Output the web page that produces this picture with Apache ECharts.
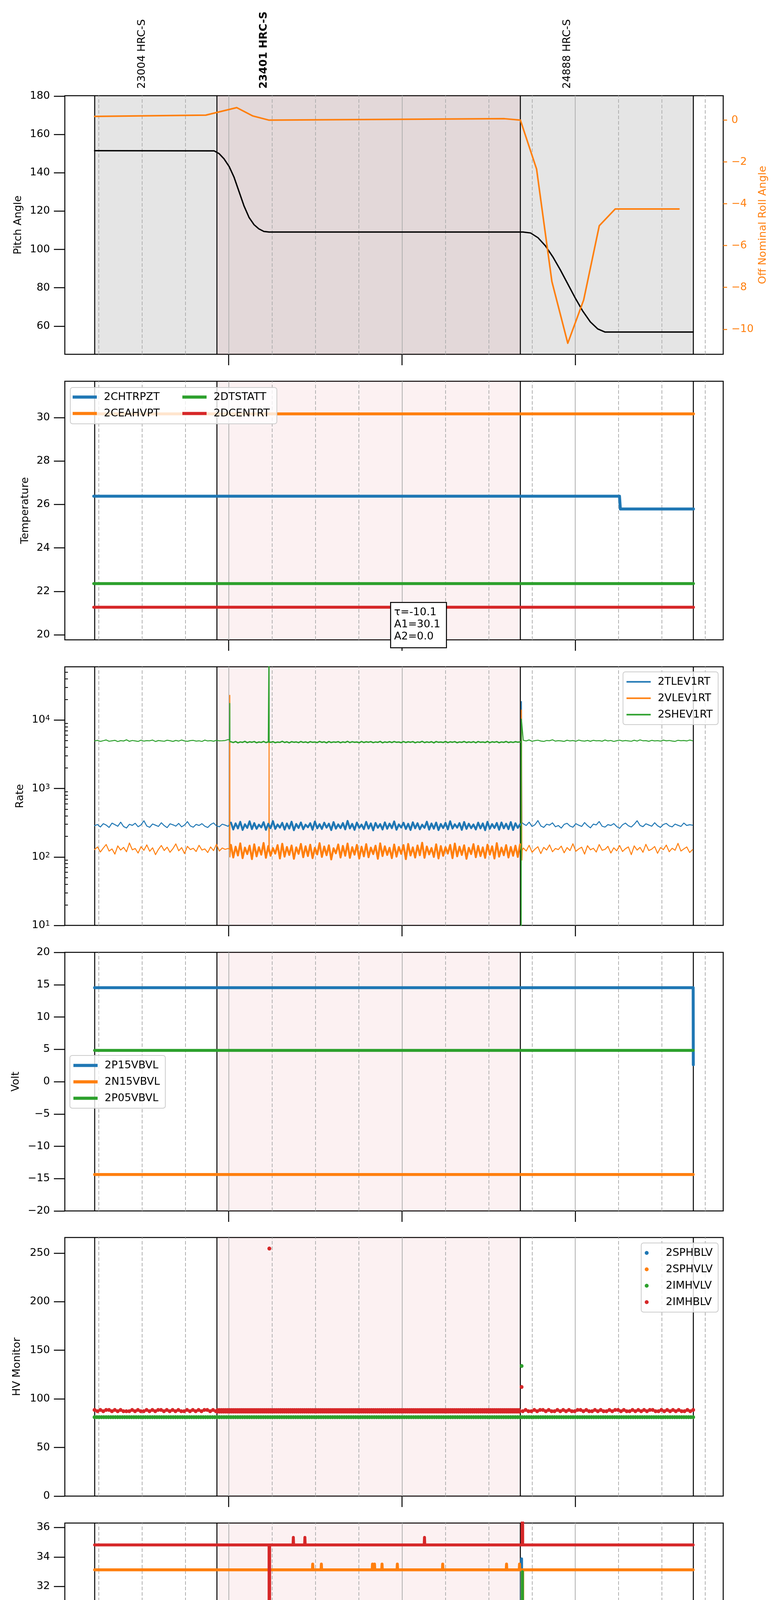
<!DOCTYPE html>
<html>
<head>
<meta charset="utf-8">
<script src="https://cdn.jsdelivr.net/npm/echarts@6/dist/echarts.min.js"></script>
<style>
html, body { margin: 0; padding: 0; background: #fff; }
#chart { width: 2000px; height: 5400px; }
</style>
</head>
<body>
<div id="chart"></div>
<script>
// x values are minutes after 05:00 on 2020-12-12
const xMin = 3.3, xMax = 231.2;
const hourTicks = [60, 120, 180];
const quarterTicks = [15, 30, 45, 75, 90, 105, 135, 150, 165, 195, 210, 225];
const obsBounds = [13.6, 55.9, 161.0, 220.8];
const obsLabels = ['23004 HRC-S', '23401 HRC-S', '24888 HRC-S'];
const obsLabelTimes = [30.0, 72.2, 177.3];
const xLabel = '2020-12-12 (347)';

// tick labels
const pitchTicks = [60, 80, 100, 120, 140, 160, 180];
const rollTicks = [-10, -8, -6, -4, -2, 0];
const tempTicks = [20, 22, 24, 26, 28, 30];
const rateTicks = [1, 2, 3, 4];   // decades, shown as 10^n
const rateMinorTicks = [20, 30, 40, 50, 60, 70, 80, 90, 200, 300, 400, 500, 600, 700, 800, 900,
  2000, 3000, 4000, 5000, 6000, 7000, 8000, 9000, 20000, 30000, 40000, 50000];
const voltTicks = [-20, -15, -10, -5, 0, 5, 10, 15, 20];
const hvTicks = [0, 50, 100, 150, 200, 250];
const detTicks = [20, 22, 24, 26, 28, 30, 32, 34, 36];
const feaTicks = [20, 22, 24, 26, 28];

// panel 1: attitude
const pitch = [[13.6,151.5],[55.0,151.4],[56.7,150.0],[58.4,147.3],[60.2,143.2],[61.9,137.6],[63.6,130.2],
  [65.3,122.8],[67.1,116.6],[68.8,112.9],[70.5,110.7],[72.2,109.4],[74.0,109.1],[161.9,109.1],[164.5,108.6],
  [167.1,106.1],[169.7,101.8],[172.2,96.2],[174.8,89.4],[177.4,82.0],[180.0,74.6],[182.6,67.8],[185.2,62.2],
  [187.8,58.5],[190.3,56.9],[220.8,56.9]];
const roll = [[13.6,0.18],[52.1,0.24],[62.8,0.60],[68.4,0.20],[74.0,0.0],[155.5,0.07],[161.0,0.0],
  [166.6,-2.34],[171.9,-7.72],[177.4,-10.67],[182.9,-8.6],[188.3,-5.05],[193.8,-4.25],[215.9,-4.25]];

// panel 2: temperature
const chtrpzt = [[13.3,26.38],[195.3,26.38],[195.6,25.79],[220.9,25.79]];
const ceahvpt = [[13.3,30.17],[220.9,30.17]];
const dtstatt = [[13.3,22.36],[220.9,22.36]];
const dcentrt = [[13.3,21.27],[220.9,21.27]];

// panel 3: rates, three sampled stretches plus the events around the transitions
const rateSpanA = [13.6, 59.8], rateSpanB = [60.8, 160.9], rateSpanC = [162.0, 220.6];
const tlevA = [286,298,274,306,292,270,312,296,281,322,278,265,300,289,311,276,294,338,283,271,303,291,279,316,
  287,268,305,295,282,309,275,293,328,284,272,299,288,306,281,269,297,314,285,276,301,292,280];
const tlevB = [318,252,309,261,326,248,300,266,331,255,312,258,296,270,322,249,305,263,334,257,298,268,315,251,
  308,260,327,246,303,265,319,254,296,271,311,250,329,262,301,256,317,268,306,247,323,259,299,264,313,253,336,
  261,304,249,318,266,297,255,325,260,309,245,314,267,302,252,320,258,307,263,330,250,299,269,316,256,305,248,
  321,262,311,254,296,266,327,251,308,259,318,247,303,264,315,253,332,260,300,268,312,249,324,257,306,263,298,
  252,317,261,309,246,326,258,302,265,314,250,319,262,305,255,323,248,310,266,301];
const tlevC = [305,288,322,279,296,340,284,270,301,292,315,276,288,264,299,310,283,272,306,291,279,318,287,266,
  302,294,329,281,273,297,288,307,278,262,295,312,286,274,300,338,289,277,305,293,281,316,286,270,298,309,284,
  275,302,290,279,313,288,296,291];
const tlevEvents = [[73.95,280],[74.0,234],[74.05,290],[161.2,285],[161.35,18600],[161.5,320]];
const vlevA = [128,140,118,135,152,122,131,110,145,126,138,119,160,127,133,114,141,125,150,121,136,108,129,147,
  124,139,117,132,155,123,137,112,143,128,134,120,148,126,131,116,140,124,153,122,135,129,133];
const vlevB = [150,98,141,105,158,96,137,110,146,93,153,102,139,108,160,97,144,104,135,112,149,95,156,101,140,
  107,147,94,138,111,155,99,143,103,151,96,136,109,159,100,142,106,148,92,134,113,152,98,145,104,157,97,139,
  108,150,95,141,102,154,99,137,110,146,94,158,103,143,107,136,96,152,101,140,111,149,93,155,105,138,98,147,
  106,161,97,142,109,135,100,153,95,144,104,139,112,150,96,157,102,141,107,148,94,136,110,154,99,145,103,138,
  97,151,108,143,95,159,101,137,106,149,98,140,104,146,100,153];
const vlevC = [135,122,148,117,130,141,112,138,126,150,119,133,128,144,115,137,124,156,121,131,139,110,146,127,
  134,118,152,125,129,143,114,136,123,147,120,132,140,108,145,126,138,117,153,124,130,142,113,137,128,149,119,
  134,125,158,122,131,140,116,128];
const vlevEvents = [[60.35,130],[60.4,23000],[60.45,100],[73.95,120],[74.0,4800],[74.05,120],
  [161.2,125],[161.35,14000],[161.5,90],[161.6,125]];
const shevA = [4950,5050,4880,5000,5120,4900,4980,5060,4850,5010,4940,5150,4890,5030,4960,4870,5080,4920,5000,
  4980,5100,4860,5020,4950,4900,5070,4990,4880,5040,4930,5110,4960,4890,5010,5050,4920,4980,4870,5090,4950,
  5000,4910,5060,4970,4990,5030,5180];
const shevB = [4820,4700,4860,4650,4790,4720,4880,4680,4810,4740,4850,4660,4780,4710,4870,4690,4800,4730,4840,
  4670,4770,4720,4890,4700,4810,4650,4830,4740,4790,4680,4860,4710,4800,4660,4840,4730,4780,4690,4870,4720,
  4810,4650,4850,4700,4790,4740,4830,4670,4800,4710,4880,4690,4820,4730,4780,4660,4860,4700,4810,4740,4840,
  4680,4790,4720,4870,4650,4800,4710,4830,4690,4850,4730,4780,4670,4860,4700,4810,4740,4840,4660,4790,4720,
  4880,4690,4800,4710,4830,4650,4850,4730,4780,4700,4870,4680,4810,4740,4840,4670,4790,4720,4860,4690,4800,
  4710,4830,4660,4850,4730,4780,4700,4870,4680,4810,4740,4840,4670,4790,4720,4860,4690,4800,4710,4830,4750,4800];
const shevC = [5050,4960,5120,4900,5000,5080,4940,4870,5030,4990,5150,4920,5010,4960,4880,5070,4950,5020,4900,
  5100,4970,4930,5040,4890,5060,4980,5000,4910,5110,4950,5030,4870,4990,5080,4940,5020,4960,4900,5070,4930,
  5130,4980,5010,4890,5050,4960,5000,4920,5090,4970,5030,4940,4880,5060,4990,5020,4950,5100,4980];
const shevEvents = [[60.35,5150],[60.4,17500],[60.45,4800],[73.95,4750],[74.0,200000],[74.05,4750],
  [161.2,4800],[161.25,1],[161.35,10300]];

// panel 4: voltages
const p15vbvl = [[13.6,14.53],[220.8,14.53],[220.85,2.62]];
const n15vbvl = [[13.6,-14.37],[220.8,-14.37]];
const p05vbvl = [[13.6,4.84],[220.8,4.84]];

// panel 5: HV monitor (points)
const hvSpanA = [13.6, 55.6], hvSpanC = [161.8, 220.8];
const hvRedA = [88.6,87.3,88.6,87.3,88.6,88.6,87.3,88.6,87.3,88.6,87.3,87.3,87.3,88.6,87.3,88.6,87.3,87.3,88.6,
  87.3,88.6,87.3,88.6,88.6,87.3,88.6,87.3,88.6,87.3,88.6,87.3,87.3,88.6,87.3,88.6,87.3,88.6,87.3,88.6,88.6,87.3,
  88.6,87.3];
const hvRedC = [87.3,88.6,87.3,87.3,88.6,87.3,88.6,88.6,87.3,88.6,87.3,87.3,88.6,87.3,88.6,87.3,88.6,87.3,87.3,
  88.6,88.6,87.3,88.6,87.3,87.3,88.6,87.3,88.6,87.3,87.3,88.6,87.3,88.6,88.6,87.3,88.6,87.3,87.3,88.6,87.3,88.6,
  87.3,88.6,87.3,88.6,88.6,87.3,87.3,88.6,87.3,88.6,87.3,88.6,87.3,88.6,87.3,87.3,88.6,87.3,88.6];
const hvSpanMid = [56.2, 160.8], hvMidStep = 0.7;
const hvRedMidLevels = [86.9, 88.5];
const hvGreenSpan = [13.6, 220.8], hvGreenStep = 0.8;
const imhvlvLevel = 81.2;
const imhblvOutliers = [[74.1,254.6],[161.4,112.2]];
const imhvlvOutliers = [[161.4,133.8]];

// panel 6: detector temperatures
const spinatm = [[13.6,20.28],[161.3,20.28],[161.4,33.87],[161.5,20.28],[220.8,20.28]];
const sphvatm = [[13.6,33.13],[89.0,33.13],[89.1,33.52],[89.2,33.13],[92.0,33.13],[92.1,33.52],[92.2,33.13],
  [109.7,33.13],[109.8,33.52],[109.9,33.13],[110.4,33.13],[110.5,33.52],[110.6,33.13],[113.0,33.13],[113.1,33.52],
  [113.2,33.13],[118.3,33.13],[118.4,33.52],[118.5,33.13],[134.0,33.13],[134.1,33.52],[134.2,33.13],[156.1,33.13],
  [156.2,33.52],[156.3,33.13],[160.6,33.13],[160.7,33.52],[160.8,33.13],[161.6,33.13],[161.7,0],[161.8,33.13],
  [220.8,33.13]];
const iminatm = [[13.6,21.68],[161.6,21.68],[161.7,33.0],[161.8,21.68],[220.8,21.68]];
const imhvatm = [[13.6,34.82],[74.0,34.82],[74.1,0],[74.2,34.82],[82.3,34.82],[82.4,35.33],[82.5,34.82],
  [86.3,34.82],[86.4,35.33],[86.5,34.82],[127.7,34.82],[127.8,35.33],[127.9,34.82],[161.6,34.82],[161.7,50],
  [161.8,34.82],[220.8,34.82]];

// panel 7: FEA temperatures
const fhtrmzt = [[13.6,25.2],[139.6,25.2],[140.0,24.62],[220.8,24.62]];
const fradpyt = [[13.6,20.73],[86.7,20.73],[87.1,20.2],[136.4,20.2],[136.8,19.68],[172.6,19.68],[173.0,20.2],
  [180.1,20.2],[180.5,20.73],[190.1,20.73],[190.5,20.2],[217.7,20.2],[218.1,19.68],[220.8,19.68]];
const fepratm = [[13.6,26.17],[27.0,26.17],[27.4,26.99],[27.7,26.99],[28.0,26.17],[28.3,26.99],[28.6,26.99],
  [29.1,26.17],[31.0,26.17],[31.3,26.99],[31.6,26.17],[32.0,26.99],[32.4,26.99],[32.9,26.17],[34.5,26.17],
  [34.8,26.99],[35.1,26.17],[35.6,26.99],[61.7,26.99],[61.9,26.17],[62.1,26.99],[74.0,26.99],[74.1,25.0],
  [74.2,26.99],[103.6,26.99],[103.8,26.17],[104.0,26.99],[106.6,26.99],[106.8,26.17],[107.1,26.99],[107.4,26.99],
  [107.7,26.17],[161.5,26.17],[161.6,60],[161.8,26.17],[220.8,26.17]];
const fe00atm = [[13.6,24.27],[16.9,24.27],[17.2,24.62],[17.5,24.62],[17.9,24.27],[19.3,24.27],[19.7,24.62],
  [20.6,24.62],[21.0,24.27],[23.1,24.27],[23.5,24.62],[24.0,24.62],[24.5,24.27],[25.0,24.62],[25.5,24.62],
  [26.0,24.27],[27.6,24.27],[28.1,24.62],[35.7,24.62],[36.0,24.27],[36.3,24.62],[50.0,24.62],[50.3,24.27],
  [50.6,24.62],[58.8,24.62],[59.1,24.27],[59.4,24.62],[73.9,24.62],[74.0,24.97],[74.1,0],[74.2,24.62],
  [76.5,24.62],[76.7,24.27],[76.9,24.62],[81.7,24.62],[81.9,25.32],[82.1,24.62],[85.1,24.62],[85.3,24.97],
  [85.5,24.62],[90.3,24.62],[90.5,24.27],[91.1,24.62],[91.6,24.27],[92.4,24.62],[93.0,24.27],[93.7,24.62],
  [94.2,24.27],[98.3,24.27],[98.5,24.62],[98.7,24.27],[123.7,24.27],[123.9,23.62],[124.1,24.27],[128.2,24.27],
  [128.4,25.68],[128.6,24.27],[130.2,24.27],[130.4,24.97],[130.6,24.27],[134.4,24.27],[134.6,25.32],[134.8,24.27],
  [138.9,24.27],[139.1,24.97],[139.3,24.27],[146.4,24.27],[146.6,23.95],[146.8,24.27],[160.0,24.27],[160.2,25.32],
  [160.4,24.27],[161.6,24.27],[161.7,0],[161.8,24.27],[164.3,24.27],[164.8,23.95],[165.3,24.27],[167.4,24.27],
  [167.9,23.95],[173.4,23.95],[173.8,24.27],[174.4,24.27],[174.8,23.95],[175.2,24.27],[177.4,24.27],[177.8,23.95],
  [178.2,24.27],[204.8,24.27],[205.0,23.62],[205.3,24.27],[212.6,24.27],[213.2,23.95],[213.6,24.27],[214.2,24.27],
  [214.5,23.95],[214.9,24.27],[215.4,24.27],[215.8,23.95],[220.8,23.95]];

const FONT = 'DejaVu Sans';
const C0 = '#1f77b4', C1 = '#ff7f0e', C2 = '#2ca02c', C3 = '#d62728';
const panelTops = [245, 976, 1707, 2438, 3168, 3899, 4629];
const panelHeight = 662, plotLeft = 166, plotWidth = 1686;

function seg(span, vals) {
  const dt = (span[1] - span[0]) / (vals.length - 1);
  return vals.map((v, i) => [span[0] + i * dt, v]);
}
function merged(...parts) {
  return [].concat(...parts).sort((a, b) => a[0] - b[0]);
}
function cadence(span, step) {
  const t = [];
  for (let x = span[0]; x <= span[1] + 1e-9; x += step) t.push(+x.toFixed(2));
  return t;
}
const minus = v => String(v).replace('-', '\u2212');

const chart = echarts.init(document.getElementById('chart'));

const grids = panelTops.map(t => ({
  left: plotLeft, top: t, width: plotWidth, height: panelHeight,
  show: true, borderColor: '#000', borderWidth: 2.5, backgroundColor: 'transparent'
}));

const xAxes = [];
panelTops.forEach((t, gi) => {
  const last = gi === panelTops.length - 1;
  xAxes.push({
    type: 'value', gridIndex: gi, min: xMin, max: xMax, position: 'bottom',
    axisLine: { show: false, onZero: false },
    axisTick: { customValues: hourTicks, length: 28, lineStyle: { color: '#000', width: 2.5 } },
    axisLabel: {
      show: last, customValues: hourTicks, margin: 33, fontSize: 28, fontFamily: FONT, color: '#000',
      formatter: v => String(5 + v / 60).padStart(2, '0') + 'h'
    },
    splitLine: { show: false },
    name: last ? xLabel : '', nameLocation: 'middle', nameGap: 68,
    nameTextStyle: { fontSize: 31, fontFamily: FONT, color: '#000' }
  });
  xAxes.push({
    type: 'value', gridIndex: gi, min: xMin, max: xMax, position: 'bottom',
    axisLine: { show: false, onZero: false },
    axisTick: { customValues: quarterTicks, inside: true, length: 7, lineStyle: { color: '#000', width: 2 } },
    axisLabel: {
      show: last, customValues: quarterTicks, margin: 6, fontSize: 20, fontFamily: FONT, color: '#000',
      formatter: v => String(v % 60)
    },
    splitLine: { show: false }
  });
});

const yCfg = [
  { min: 45.3, max: 180.2, ticks: pitchTicks, name: 'Pitch Angle', gap: 106 },
  { min: 19.77, max: 31.67, ticks: tempTicks, name: 'Temperature', gap: 88 },
  { log: true, name: 'Rate', gap: 101 },
  { min: -20, max: 20, ticks: voltTicks, name: 'Volt', gap: 112 },
  { min: 0, max: 266, ticks: hvTicks, name: 'HV Monitor', gap: 109 },
  { min: 18.78, max: 36.3, ticks: detTicks, name: 'Detector Temp', gap: 87 },
  { min: 18.70, max: 28.46, ticks: feaTicks, name: 'FEA Temp', gap: 89 }
];
const nameStyle = { fontSize: 27, fontFamily: FONT, color: '#000' };
const yAxes = yCfg.map((c, gi) => {
  const base = {
    gridIndex: gi, position: 'left', axisLine: { show: false, onZero: false }, splitLine: { show: false },
    name: c.name, nameLocation: 'middle', nameRotate: 90, nameGap: c.gap, nameTextStyle: nameStyle
  };
  if (c.log) {
    return Object.assign(base, { type: 'log', logBase: 10, min: 10, max: 60000,
      axisTick: { show: false }, axisLabel: { show: false } });
  }
  return Object.assign(base, {
    type: 'value', min: c.min, max: c.max,
    axisTick: { customValues: c.ticks, length: 28, lineStyle: { color: '#000', width: 2.5 } },
    axisLabel: { customValues: c.ticks, margin: 38, fontSize: 27, fontFamily: FONT, color: '#000', formatter: minus }
  });
});
// right axis of the top panel (index 7)
yAxes.push({
  type: 'value', gridIndex: 0, position: 'right', min: -11.2, max: 1.17,
  axisLine: { show: false, onZero: false }, splitLine: { show: false },
  axisTick: { customValues: rollTicks, length: 10, lineStyle: { color: C1, width: 2.5 } },
  axisLabel: { customValues: rollTicks, margin: 21, fontSize: 27, fontFamily: FONT, color: C1, formatter: minus },
  name: 'Off Nominal Roll Angle', nameLocation: 'middle', nameRotate: 90, nameGap: 87,
  nameTextStyle: { fontSize: 27, fontFamily: FONT, color: C1 }
});
// decade labels for the rate panel (index 8) and its minor ticks (index 9)
const rateTop = Math.log10(60000);
yAxes.push({
  type: 'value', gridIndex: 2, position: 'left', min: 1, max: rateTop,
  axisLine: { show: false, onZero: false }, splitLine: { show: false },
  axisTick: { customValues: rateTicks, length: 28, lineStyle: { color: '#000', width: 2.5 } },
  axisLabel: {
    customValues: rateTicks, margin: 38, formatter: v => '{b|10}{s|' + v + '}',
    rich: {
      b: { fontSize: 27, fontFamily: FONT, color: '#000' },
      s: { fontSize: 19, fontFamily: FONT, color: '#000', verticalAlign: 'top' }
    }
  }
});
yAxes.push({
  type: 'value', gridIndex: 2, position: 'left', min: 1, max: rateTop,
  axisLine: { show: false, onZero: false }, splitLine: { show: false }, axisLabel: { show: false },
  axisTick: { customValues: rateMinorTicks.map(v => Math.log10(v)), inside: true, length: 8,
    lineStyle: { color: '#000', width: 2 } }
});

function background(gi) {
  const areas = [];
  if (gi === 0) areas.push([{ xAxis: obsBounds[0], itemStyle: { color: 'rgba(0,0,0,0.1)' } }, { xAxis: obsBounds[3] }]);
  areas.push([{ xAxis: obsBounds[1], itemStyle: { color: 'rgba(214,39,40,0.063)' } }, { xAxis: obsBounds[2] }]);
  const lines = quarterTicks.map(v => ({ xAxis: v, lineStyle: { type: [9, 5], color: '#b0b0b0', width: 2 } }))
    .concat(hourTicks.map(v => ({ xAxis: v, lineStyle: { type: 'solid', color: '#b0b0b0', width: 2 } })))
    .concat(obsBounds.map(v => ({ xAxis: v, lineStyle: { type: 'solid', color: '#000', width: 2.5 } })));
  return {
    type: 'line', xAxisIndex: 2 * gi, yAxisIndex: gi, data: [], silent: true,
    markArea: { silent: true, z: 1, data: areas },
    markLine: { silent: true, z: 1.5, symbol: ['none', 'none'], label: { show: false }, data: lines }
  };
}

function line(name, data, gi, color, width, yIdx) {
  return {
    type: 'line', name, data, xAxisIndex: 2 * gi, yAxisIndex: yIdx === undefined ? gi : yIdx,
    showSymbol: false, symbol: 'none', clip: true, z: 2,
    lineStyle: { color, width, cap: 'round', join: 'round' }, itemStyle: { color },
    emphasis: { disabled: true }
  };
}
function dots(name, data, gi, color) {
  return {
    type: 'scatter', name, data, xAxisIndex: 2 * gi, yAxisIndex: gi, symbolSize: 10, z: 2,
    itemStyle: { color, opacity: 1 }, emphasis: { disabled: true }
  };
}

const W = 7.5;
const hvMidTimes = cadence(hvSpanMid, hvMidStep);
const imhblvData = [].concat(seg(hvSpanA, hvRedA), seg(hvSpanC, hvRedC),
  ...hvRedMidLevels.map(l => hvMidTimes.map(t => [t, l])), imhblvOutliers);
const imhvlvData = cadence(hvGreenSpan, hvGreenStep).map(t => [t, imhvlvLevel]).concat(imhvlvOutliers);

const series = [];
for (let gi = 0; gi < 7; gi++) series.push(background(gi));
series.push(
  line('Pitch', pitch, 0, '#000', 3.5),
  line('Roll', roll, 0, C1, 4, 7),
  line('2CHTRPZT', chtrpzt, 1, C0, W), line('2CEAHVPT', ceahvpt, 1, C1, W),
  line('2DTSTATT', dtstatt, 1, C2, W), line('2DCENTRT', dcentrt, 1, C3, W),
  line('2TLEV1RT', merged(seg(rateSpanA, tlevA), seg(rateSpanB, tlevB), seg(rateSpanC, tlevC), tlevEvents), 2, C0, 2.5),
  line('2VLEV1RT', merged(seg(rateSpanA, vlevA), seg(rateSpanB, vlevB), seg(rateSpanC, vlevC), vlevEvents), 2, C1, 2.5),
  line('2SHEV1RT', merged(seg(rateSpanA, shevA), seg(rateSpanB, shevB), seg(rateSpanC, shevC), shevEvents), 2, C2, 2.5),
  // densely sampled stretch during the observation reads as a solid band
  line('2TLEV1RT', seg(rateSpanB, tlevB), 2, C0, 5),
  line('2VLEV1RT', seg(rateSpanB, vlevB), 2, C1, 5),
  line('2SHEV1RT', seg(rateSpanB, shevB), 2, C2, 3.5),
  line('2P15VBVL', p15vbvl, 3, C0, W), line('2N15VBVL', n15vbvl, 3, C1, W), line('2P05VBVL', p05vbvl, 3, C2, W),
  dots('2SPHBLV', [], 4, C0), dots('2SPHVLV', [], 4, C1),
  dots('2IMHVLV', imhvlvData, 4, C2), dots('2IMHBLV', imhblvData, 4, C3),
  line('2SPINATM', spinatm, 5, C0, W), line('2SPHVATM', sphvatm, 5, C1, W),
  line('2IMINATM', iminatm, 5, C2, W), line('2IMHVATM', imhvatm, 5, C3, W),
  line('2FHTRMZT', fhtrmzt, 6, C0, W), line('2FRADPYT', fradpyt, 6, C1, W),
  line('2FEPRATM', fepratm, 6, C2, W), line('2FE00ATM', fe00atm, 6, C3, W)
);

const legendBase = {
  orient: 'vertical', itemWidth: 62, itemHeight: 8, itemGap: 15, icon: 'rect', selectedMode: false,
  textStyle: { fontSize: 27, fontFamily: FONT, color: '#000', padding: [0, 0, 0, 13] },
  borderColor: '#cccccc', borderWidth: 2, borderRadius: 6, backgroundColor: 'rgba(255,255,255,0.8)',
  padding: [12, 14, 12, 9], z: 4
};
const bare = { borderWidth: 0, backgroundColor: 'transparent', padding: [12, 0, 12, 7] };
const legends = [
  Object.assign({}, legendBase, bare, { data: ['2CHTRPZT', '2CEAHVPT'], left: 179, top: 991 }),
  Object.assign({}, legendBase, bare, { data: ['2DTSTATT', '2DCENTRT'], left: 460, top: 991 }),
  Object.assign({}, legendBase, { data: ['2TLEV1RT', '2VLEV1RT', '2SHEV1RT'], right: 161, top: 1720, itemHeight: 4 }),
  Object.assign({}, legendBase, { data: ['2P15VBVL', '2N15VBVL', '2P05VBVL'], left: 179, top: 2702 }),
  Object.assign({}, legendBase, { data: ['2SPHBLV', '2SPHVLV', '2IMHVLV', '2IMHBLV'], right: 161, top: 3182,
    icon: 'circle', itemHeight: 10 }),
  Object.assign({}, legendBase, { data: ['2SPINATM', '2SPHVATM', '2IMINATM', '2IMHVATM'], right: 161, top: 4141 }),
  Object.assign({}, legendBase, { data: ['2FHTRMZT', '2FRADPYT', '2FEPRATM', '2FE00ATM'], right: 161, top: 4643 })
];

const graphics = [
  { type: 'rect', left: 179, top: 991, z: 3, shape: { width: 529, height: 93, r: 6 },
    style: { fill: 'rgba(255,255,255,0.8)', stroke: '#cccccc', lineWidth: 2 } },
  { type: 'group', left: 999, top: 1541, z: 10, children: [
    { type: 'rect', z: 10, shape: { x: 0, y: 0, width: 143, height: 116 },
      style: { fill: '#fff', stroke: '#000', lineWidth: 2.5 } },
    { type: 'text', z: 11, x: 9, y: 10,
      style: { text: '\u03c4=-10.1\nA1=30.1\nA2=0.0', font: '27px "DejaVu Sans"', fill: '#000', lineHeight: 31 } }
  ] }
];

const option = {
  animation: false,
  backgroundColor: '#fff',
  textStyle: { fontFamily: FONT },
  grid: grids,
  xAxis: xAxes,
  yAxis: yAxes,
  legend: legends,
  graphic: graphics,
  series
};
chart.setOption(option);

// observation ids, placed through the top panel's time axis, reading upwards
const obsTexts = obsLabels.map((txt, i) => ({
  type: 'text', z: 10, rotation: Math.PI / 2,
  x: chart.convertToPixel({ xAxisIndex: 0 }, obsLabelTimes[i]), y: 227,
  style: { text: txt, font: (i === 1 ? 'bold ' : '') + '27px "DejaVu Sans"', fill: '#000',
    align: 'left', verticalAlign: 'middle' }
}));
chart.setOption({ graphic: graphics.concat(obsTexts) });
window.addEventListener('resize', () => chart.resize());
</script>
</body>
</html>
